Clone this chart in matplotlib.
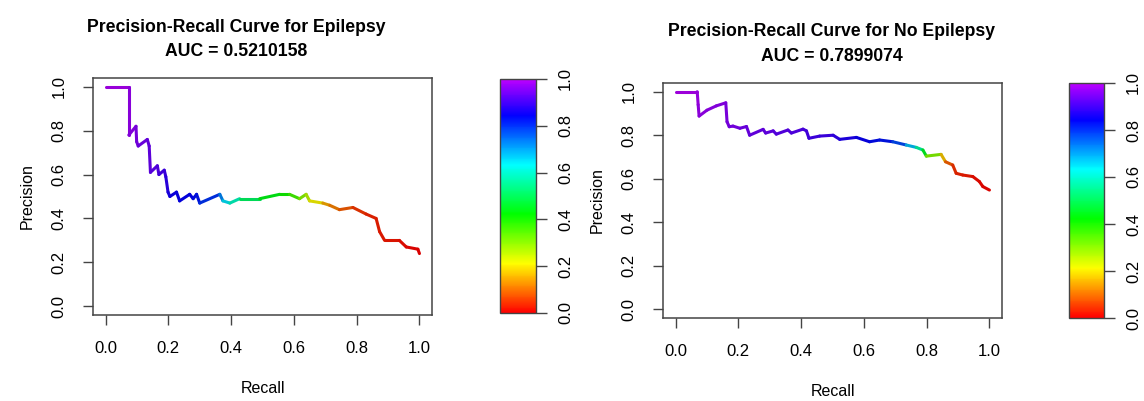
import colorsys
import numpy as np
import matplotlib as mpl
mpl.use("Agg")
import matplotlib.pyplot as plt
from matplotlib.collections import LineCollection
from matplotlib.colors import ListedColormap, Normalize

plt.rcParams["font.family"] = ["Liberation Sans", "DejaVu Sans"]

# --- data ------------------------------------------------------------------
rec_epi = [0.000, 0.074, 0.074, 0.097, 0.099, 0.104, 0.133, 0.139, 0.143, 0.165,
           0.170, 0.187, 0.192, 0.199, 0.205, 0.226, 0.236, 0.268, 0.279, 0.290,
           0.300, 0.364, 0.374, 0.396, 0.427, 0.491, 0.555, 0.586, 0.618, 0.639,
           0.650, 0.692, 0.714, 0.745, 0.788, 0.830, 0.862, 0.873, 0.889, 0.936,
           0.958, 0.995, 1.000]
prec_epi = [1.00, 1.00, 0.78, 0.82, 0.75, 0.73, 0.76, 0.73, 0.61, 0.64,
            0.60, 0.62, 0.59, 0.52, 0.50, 0.52, 0.48, 0.51, 0.49, 0.51,
            0.47, 0.51, 0.48, 0.47, 0.49, 0.49, 0.51, 0.51, 0.49, 0.51,
            0.48, 0.47, 0.46, 0.44, 0.45, 0.42, 0.40, 0.34, 0.30, 0.30,
            0.27, 0.26, 0.24]
thr_epi = [1.00, 0.98, 0.97, 0.96, 0.95, 0.95, 0.94, 0.93, 0.93, 0.92,
           0.91, 0.90, 0.89, 0.87, 0.86, 0.85, 0.85, 0.84, 0.84, 0.83,
           0.82, 0.78, 0.68, 0.62, 0.55, 0.46, 0.42, 0.40, 0.33, 0.28,
           0.25, 0.17, 0.12, 0.10, 0.06, 0.04, 0.03, 0.03, 0.02, 0.02,
           0.01, 0.00, 0.00]

rec_no = [0.000, 0.069, 0.072, 0.075, 0.100, 0.130, 0.160, 0.164, 0.171, 0.183,
          0.205, 0.226, 0.236, 0.279, 0.287, 0.311, 0.321, 0.358, 0.369, 0.406,
          0.417, 0.425, 0.459, 0.502, 0.523, 0.576, 0.618, 0.650, 0.692, 0.735,
          0.767, 0.788, 0.799, 0.846, 0.860, 0.883, 0.894, 0.915, 0.947, 0.968,
          0.979, 1.000]
prec_no = [1.000, 1.000, 0.940, 0.888, 0.915, 0.935, 0.949, 0.862, 0.839, 0.842,
           0.832, 0.840, 0.800, 0.827, 0.810, 0.820, 0.805, 0.824, 0.810, 0.828,
           0.820, 0.786, 0.796, 0.800, 0.781, 0.790, 0.770, 0.778, 0.770, 0.755,
           0.744, 0.732, 0.704, 0.712, 0.678, 0.663, 0.625, 0.617, 0.610, 0.587,
           0.564, 0.548]
thr_no = [1.00, 0.99, 0.98, 0.98, 0.97, 0.97, 0.96, 0.96, 0.95, 0.95,
          0.95, 0.94, 0.94, 0.93, 0.93, 0.93, 0.92, 0.92, 0.92, 0.91,
          0.91, 0.90, 0.90, 0.89, 0.88, 0.86, 0.84, 0.83, 0.82, 0.74,
          0.62, 0.50, 0.40, 0.22, 0.12, 0.05, 0.04, 0.03, 0.02, 0.01,
          0.01, 0.00]

titles = ["Precision-Recall Curve for Epilepsy",
          "Precision-Recall Curve for No Epilepsy"]
auc_text = ["AUC = 0.5210158", "AUC = 0.7899074"]

# R-like rainbow: red at 0 -> purple at 1 (line drawn a little darker, as in the picture)
hues = np.linspace(0, 0.79, 256)
cmap = ListedColormap([colorsys.hsv_to_rgb(h, 1, 1) for h in hues])
line_cmap = ListedColormap([colorsys.hsv_to_rgb(h, 1, 0.85) for h in hues])
norm = Normalize(0, 1)
box_col = "#444444"

fig = plt.figure(figsize=(11.44, 4.01), dpi=100)
W, H = 1144, 401

def frac(x0, y0, x1, y1):
    # pixel box -> figure fraction [left, bottom, width, height]
    return [x0 / W, 1 - y1 / H, (x1 - x0) / W, (y1 - y0) / H]

panels = [
    dict(rec=rec_epi, prec=prec_epi, thr=thr_epi, title=titles[0], auc=auc_text[0],
         ax=(93, 78, 432, 315), cax=(500, 79, 536, 313), tx=236, ty=(32, 56)),
    dict(rec=rec_no, prec=prec_no, thr=thr_no, title=titles[1], auc=auc_text[1],
         ax=(663, 83, 1002, 318), cax=(1069, 83, 1104, 318), tx=832, ty=(36, 61)),
]

for p in panels:
    ax = fig.add_axes(frac(*p["ax"]))
    pts = np.column_stack([p["rec"], p["prec"]])
    segs = np.stack([pts[:-1], pts[1:]], axis=1)
    thr = np.asarray(p["thr"])
    lc = LineCollection(segs, cmap=line_cmap, norm=norm, linewidths=2.2,
                        capstyle="round", joinstyle="round")
    lc.set_array((thr[:-1] + thr[1:]) / 2)
    ax.add_collection(lc)

    ax.set_xlim(-0.04, 1.04)
    ax.set_ylim(-0.04, 1.04)
    ticks = np.arange(0, 1.01, 0.2)
    ax.set_xticks(ticks)
    ax.set_yticks(ticks)
    ax.set_xticklabels(["%.1f" % t for t in ticks])
    ax.set_yticklabels(["%.1f" % t for t in ticks], rotation=90, va="center")
    ax.tick_params(direction="out", length=7, width=1, color=box_col,
                   labelsize=12, pad=12)
    for s in ax.spines.values():
        s.set_color(box_col)
        s.set_linewidth(1.1)
    ax.set_xlabel("Recall", fontsize=11.5, labelpad=18)
    ax.set_ylabel("Precision", fontsize=11.5, labelpad=12)

    fig.text(p["tx"] / W, 1 - p["ty"][0] / H, p["title"], ha="center", va="baseline",
             fontsize=12.7, fontweight="bold")
    fig.text(p["tx"] / W, 1 - p["ty"][1] / H, p["auc"], ha="center", va="baseline",
             fontsize=12.7, fontweight="bold")

    cax = fig.add_axes(frac(*p["cax"]))
    cb = fig.colorbar(mpl.cm.ScalarMappable(norm=norm, cmap=cmap), cax=cax)
    cb.set_ticks(ticks)
    cb.set_ticklabels(["%.1f" % t for t in ticks])
    cb.outline.set_edgecolor(box_col)
    cb.outline.set_linewidth(1)
    cax.tick_params(direction="out", length=8, width=1, color=box_col,
                    labelsize=12, pad=8)
    for lab in cax.get_yticklabels():
        lab.set_rotation(90)
        lab.set_va("center")

fig.savefig("out.png", dpi=100)
plt.close(fig)
